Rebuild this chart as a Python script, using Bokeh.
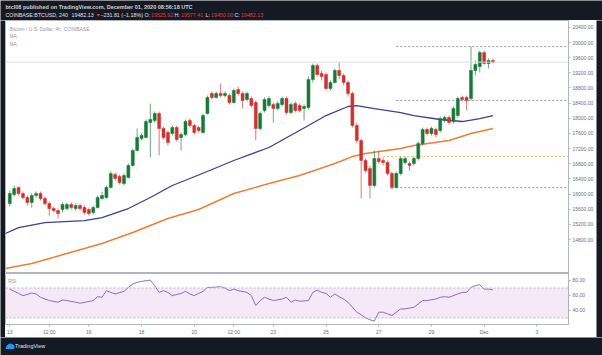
import pandas as pd
from bokeh.plotting import figure
from bokeh.layouts import column, row
from bokeh.models import (Range1d, LinearAxis, FixedTicker, Label, ColumnDataSource,
                          BoxAnnotation, Span, PrintfTickFormatter)
from bokeh.embed import file_html
from bokeh.resources import INLINE

# ---------------- data (BTCUSD 4h) ----------------
first_bar = "2020-11-13 00:00"
bar_hours = 4

opens = [15751, 15988, 16173, 16015, 15909, 15777, 15962, 16015, 15883, 15751,
         15619, 15566, 15593, 15619, 15725, 15619, 15698, 15645, 15593, 15514,
         15645, 15883, 15909, 16173, 16516, 16463, 16279, 16437, 16754, 17150,
         17467, 17493, 17888, 17941, 18126, 17730, 17625, 17599, 17757, 17493,
         17572, 17941, 17810, 17757, 17625, 18126, 18654, 18548, 18654, 18601,
         18601, 18416, 18759, 18654, 18496, 18522, 18416, 17730, 18206, 18337,
         18363, 18258, 18363, 18522, 18153, 18390, 18337, 18258, 18284, 19023,
         19393, 19182, 19155, 18786, 18944, 19261, 19129, 18944, 18654, 17810,
         17414, 16886, 16675, 16226, 16939, 16886, 16833, 16543, 16173, 16543,
         16833, 16807, 16807, 16939, 17335, 17704, 17599, 17704, 17678, 17941,
         18020, 17915, 18073, 18548, 18548, 18522, 19261, 19366, 19736, 19446,
         19525.92]
closes = [16015, 16147, 16015, 15909, 15777, 15962, 16015, 15883, 15751, 15619,
          15566, 15487, 15725, 15725, 15645, 15698, 15619, 15514, 15487, 15645,
          15909, 15962, 16173, 16543, 16411, 16306, 16490, 16754, 17150, 17493,
          17546, 17915, 17968, 18126, 17730, 17493, 17361, 17757, 17440, 17572,
          17915, 17810, 17625, 17678, 18073, 18548, 18548, 18654, 18601, 18654,
          18416, 18733, 18654, 18469, 18654, 18337, 17730, 18126, 18496, 18522,
          18258, 18390, 18522, 18153, 18363, 18206, 18206, 18311, 19023, 19393,
          19155, 19102, 18786, 18944, 19261, 19129, 18944, 18654, 17810, 17414,
          16886, 16622, 16226, 16939, 16859, 16833, 16543, 16173, 16543, 16939,
          16939, 16754, 16939, 17335, 17704, 17599, 17730, 17572, 17994, 18020,
          17888, 18258, 18522, 18496, 18469, 19261, 19419, 19736, 19446, 19525,
          19482.13]
highs = [16094, 16226, 16200, 16067, 15962, 16015, 16067, 16067, 15935, 15804,
         15672, 15619, 15777, 15777, 15777, 15751, 15751, 15698, 15645, 15698,
         15962, 16067, 16226, 16596, 16569, 16516, 16543, 16807, 17202, 17730,
         17599, 17968, 18390, 18179, 18179, 17783, 17678, 17810, 17810, 17625,
         17968, 17994, 17862, 17810, 18126, 18601, 18707, 18707, 18918, 18707,
         18654, 18786, 18839, 18707, 18707, 18575, 18469, 18179, 18548, 18575,
         18416, 18443, 18575, 18575, 18416, 18443, 18390, 18363, 19102, 19446,
         19446, 19261, 19208, 18997, 19314, 19472, 19182, 18997, 18707, 17888,
         17467, 16939, 16754, 17150, 17150, 16965, 16886, 16596, 16596, 16991,
         16991, 16859, 16991, 17388, 17757, 17757, 17783, 17757, 18047, 18073,
         18073, 18311, 18575, 18601, 18601, 19894, 19525, 19789, 19789, 19577,
         19577.41]
lows = [15672, 15935, 15962, 15856, 15698, 15645, 15909, 15830, 15698, 15434,
        15514, 15356, 15514, 15566, 15593, 15566, 15566, 15461, 15434, 15461,
        15619, 15856, 15883, 16147, 16358, 16253, 16226, 16411, 16728, 17123,
        17414, 17467, 16965, 17888, 17018, 17440, 17282, 17546, 17388, 17150,
        17520, 17757, 17572, 17625, 17599, 18100, 18496, 18522, 18548, 18548,
        18363, 18390, 18601, 18258, 18443, 18284, 17414, 17678, 18153, 18284,
        17888, 18206, 18311, 18100, 18100, 18153, 18153, 17941, 18232, 18944,
        19102, 18997, 18733, 18733, 18918, 19023, 18865, 18575, 17757, 17335,
        15883, 16569, 15883, 16173, 16807, 16754, 16490, 16120, 16147, 16490,
        16780, 16622, 16754, 16886, 17282, 17546, 17546, 17493, 17625, 17888,
        17836, 17862, 18020, 18443, 18206, 18469, 19129, 19208, 19419, 19314,
        19450.00]

# moving averages (vertices: bar index, value)
ma_blue_bar = [-1, 2, 8, 17, 21, 27, 32, 37, 43, 51, 59, 68, 72, 77, 79, 83, 89, 92, 98, 103, 107, 110]
ma_blue_val = [14959, 15117, 15249, 15302, 15381, 15619, 15909, 16226, 16503, 16886, 17229,
               17810, 18073, 18311, 18337, 18258, 18152, 18073, 17968, 17915, 17994, 18073]
ma_orange_bar = [-1, 5, 13, 21, 28, 36, 43, 51, 59, 66, 74, 78, 81, 89, 92, 100, 105, 110]
ma_orange_val = [14035, 14168, 14431, 14695, 14986, 15355, 15593, 16015, 16279, 16490,
                 16807, 16991, 17070, 17203, 17282, 17414, 17599, 17730]

# RSI (vertices: bar index, value)
rsi_bar = [0, 2, 3, 5, 6, 7, 9, 11, 12, 13, 15, 16, 19, 20, 21, 22, 23, 24, 26, 27, 28, 29, 30, 31,
           32, 33, 34, 35, 36, 37, 39, 40, 41, 42, 43, 44, 45, 46, 48, 49, 50, 51, 52, 54, 55, 56,
           57, 58, 59, 60, 62, 63, 64, 65, 66, 68, 69, 70, 71, 72, 73, 74, 75, 76, 77, 79, 80, 81,
           82, 83, 84, 85, 86, 87, 88, 89, 90, 92, 93, 94, 95, 97, 98, 99, 100, 102, 103, 104, 105,
           106, 107, 108, 109, 110]
rsi_val = [68.5, 62.8, 59.7, 63.3, 62.0, 57.6, 53.2, 51.0, 54.0, 53.2, 51.0, 49.6, 53.2, 58.4, 57.6,
           66.4, 64.1, 62.0, 65.5, 70.8, 75.2, 77.5, 78.8, 79.6, 80.5, 73.0, 64.1, 66.4, 64.1, 59.7,
           62.8, 65.5, 62.0, 59.7, 62.8, 65.5, 70.8, 70.8, 71.7, 69.9, 66.4, 68.5, 66.4, 64.1, 59.7,
           46.5, 53.2, 57.6, 55.3, 53.2, 55.3, 57.6, 51.0, 54.0, 52.3, 53.2, 64.1, 67.2, 64.1, 62.8,
           57.6, 62.0, 58.4, 55.3, 51.0, 37.7, 34.2, 30.1, 27.6, 25.8, 37.7, 37.7, 35.5, 33.3, 37.7,
           42.1, 42.1, 44.3, 48.7, 53.2, 53.2, 55.3, 57.6, 58.4, 57.6, 62.0, 64.1, 64.1, 70.8, 73.0,
           74.3, 68.5, 68.5, 67.6]
rsi_upper, rsi_lower = 70, 30

# horizontal rays drawn on the chart
ray_levels = [19894, 18469, 16991, 16174]
ray_colors = ["#9a9da6", "#9a9da6", "#f5c26b", "#9a9da6"]
ray_start_bar = [88, 88, 85, 88]

price_ticks = [14800, 15200, 15600, 16000, 16400, 16800, 17200, 17600, 18000, 18400,
               18800, 19200, 19600, 20000, 20400]
rsi_ticks = [40, 60, 80]
time_tick_times = ["2020-11-13 00:00", "2020-11-14 12:00", "2020-11-16 00:00", "2020-11-18 00:00",
                   "2020-11-20 00:00", "2020-11-21 12:00", "2020-11-23 00:00", "2020-11-25 00:00",
                   "2020-11-27 00:00", "2020-11-29 00:00", "2020-12-01 00:00", "2020-12-03 00:00"]
time_tick_labels = ["13", "12:00", "16", "18", "20", "12:00", "23", "25", "27", "29", "Dec", "3"]

header_line1 = "btcl08 published on TradingView.com, December 01, 2020 08:56:18 UTC"
header_line2 = [("COINBASE:BTCUSD, 240", "w"), ("19482.13", "w"), ("\u25bc", "r"),
                ("\u2212231.81 (\u22121.18%)", "w"), ("O:", "w"), ("19525.92", "r"),
                ("H:", "w"), ("19577.41", "r"), ("L:", "w"), ("19450.00", "r"),
                ("C:", "w"), ("19482.13", "r")]
legend_lines = ["Bitcoin / U.S. Dollar, 4h, COINBASE", "MA", "MA"]

# ---------------- helpers ----------------
t0 = pd.Timestamp(first_bar)
def hrs(ts):
    return (pd.Timestamp(ts) - t0).total_seconds() / 3600.0

DARK = "#151923"
UP, DOWN = "#177a37", "#d0302f"
FONT = "Liberation Sans"
AX_TXT = "#6a6d78"
LINE_GRAY = "#b2b5be"

xs = [i * bar_hours for i in range(len(opens))]
inc = [c >= o for o, c in zip(opens, closes)]
src = ColumnDataSource(dict(
    x=xs,
    top=[max(o, c) for o, c in zip(opens, closes)],
    bottom=[min(o, c) for o, c in zip(opens, closes)],
    high=highs, low=lows,
    color=[UP if u else DOWN for u in inc],
))

x_start, x_end = -3.9, 508.8
xr = Range1d(x_start, x_end)

# ---------------- header ----------------
hdr = figure(width=602, height=20, x_range=Range1d(0, 602), y_range=Range1d(20, 0),
             toolbar_location=None, output_backend="svg", min_border=0,
             x_axis_location=None, y_axis_location=None,
             background_fill_color=DARK, border_fill_color=DARK, outline_line_color=None)
hdr.grid.visible = False
hdr.add_layout(Label(x=5, y=6.5, text=header_line1, text_font=FONT, text_font_size="5.5px",
                     text_font_style="bold", text_color="#d1d4dc", text_baseline="middle"))
seg_x = [5, 71, 95, 100, 144, 150.5, 174, 180.5, 205, 210.5, 234, 240.5]
for sx, (t, c) in zip(seg_x, header_line2):
    hdr.add_layout(Label(x=sx, y=14, text=t, text_font=FONT, text_font_size="5.3px",
                         text_color=("#e0e3eb" if c == "w" else "#e23b3b"),
                         text_baseline="middle"))

# ---------------- main price pane ----------------
main = figure(width=591, height=253, x_range=xr, y_range=Range1d(13904, 20581),
              toolbar_location=None, output_backend="svg",
              min_border_left=0, min_border_right=27, min_border_top=0, min_border_bottom=0,
              x_axis_location=None, y_axis_location=None,
              background_fill_color="white", border_fill_color="white",
              outline_line_color=LINE_GRAY)
main.grid.visible = False

main.add_layout(Span(location=closes[-1], dimension="width", line_color="#dcdde1", line_width=1))
for lvl, col, sb in zip(ray_levels, ray_colors, ray_start_bar):
    main.segment(x0=sb * bar_hours, y0=lvl, x1=x_end, y1=lvl, line_color=col,
                 line_width=1, line_dash="2 2")

main.line([b * bar_hours for b in ma_orange_bar], ma_orange_val, line_color="#f07c36", line_width=1.4)
main.line([b * bar_hours for b in ma_blue_bar], ma_blue_val, line_color="#3d3f96", line_width=1.3)

main.segment(x0="x", y0="low", x1="x", y1="high", source=src, line_color="color",
             line_alpha=0.65, line_width=1)
main.vbar(x="x", width=bar_hours * 0.68, top="top", bottom="bottom", source=src,
          fill_color="color", line_color="color", line_width=0.5)

yax = LinearAxis(ticker=FixedTicker(ticks=price_ticks),
                 formatter=PrintfTickFormatter(format="%.2f"),
                 major_label_text_font_size="5px", major_label_text_color=AX_TXT,
                 major_label_text_font=FONT,
                 major_tick_out=2, major_tick_in=0, minor_tick_out=0, minor_tick_in=0,
                 major_tick_line_color=LINE_GRAY, axis_line_color=LINE_GRAY,
                 major_label_standoff=2)
main.add_layout(yax, "right")

for k, txt in enumerate(legend_lines):
    main.add_layout(Label(x=-0.3, y=[20369, 20185, 19974][k], text=txt, text_font=FONT,
                          text_font_size="5px", text_color="#9598a1", text_baseline="middle"))

# ---------------- RSI pane ----------------
rsi = figure(width=591, height=64, x_range=xr, y_range=Range1d(21.3, 89.3),
             toolbar_location=None, output_backend="svg",
             min_border_left=0, min_border_right=27, min_border_top=0, min_border_bottom=13,
             x_axis_location=None, y_axis_location=None,
             background_fill_color="white", border_fill_color="white",
             outline_line_color=LINE_GRAY)
rsi.grid.visible = False
rsi.add_layout(BoxAnnotation(bottom=rsi_lower, top=rsi_upper, fill_color="#9c27b0",
                             fill_alpha=0.1, line_color=None))
for lv in (rsi_upper, rsi_lower):
    rsi.add_layout(Span(location=lv, dimension="width", line_color="#b9bbc2",
                        line_dash="2 2", line_width=1))
rsi.line([b * bar_hours for b in rsi_bar], rsi_val, line_color="#8d72c4", line_width=1)
rsi.add_layout(Label(x=-1.5, y=78.7, text="RSI", text_font=FONT, text_font_size="5px",
                     text_color="#9598a1", text_baseline="middle"))

rax = LinearAxis(ticker=FixedTicker(ticks=rsi_ticks),
                 formatter=PrintfTickFormatter(format="%.2f"),
                 major_label_text_font_size="5px", major_label_text_color=AX_TXT,
                 major_label_text_font=FONT,
                 major_tick_out=2, major_tick_in=0, minor_tick_out=0, minor_tick_in=0,
                 major_tick_line_color=LINE_GRAY, axis_line_color=LINE_GRAY,
                 major_label_standoff=2)
rsi.add_layout(rax, "right")

tick_pos = [int(round(hrs(t))) for t in time_tick_times]
xax = LinearAxis(ticker=FixedTicker(ticks=tick_pos),
                 major_label_overrides={p: l for p, l in zip(tick_pos, time_tick_labels)},
                 major_label_text_font_size="5px", major_label_text_color=AX_TXT,
                 major_label_text_font=FONT,
                 major_tick_out=2, major_tick_in=0, minor_tick_out=0, minor_tick_in=0,
                 major_tick_line_color=LINE_GRAY, axis_line_color=LINE_GRAY,
                 major_label_standoff=2)
rsi.add_layout(xax, "below")

# ---------------- side strips and footer ----------------
def strip(w, h):
    s = figure(width=w, height=h, toolbar_location=None, output_backend="svg", min_border=0,
               x_axis_location=None, y_axis_location=None, x_range=Range1d(0, 1), y_range=Range1d(0, 1),
               background_fill_color=DARK, border_fill_color=DARK, outline_line_color=None)
    s.grid.visible = False
    return s

left = strip(5, 317)
right = strip(6, 317)

ftr = figure(width=602, height=18, x_range=Range1d(0, 602), y_range=Range1d(18, 0),
             toolbar_location=None, output_backend="svg", min_border=0,
             x_axis_location=None, y_axis_location=None,
             background_fill_color=DARK, border_fill_color=DARK, outline_line_color=None)
ftr.grid.visible = False
ftr.patch([5.5, 6.5, 8, 10, 12, 13.5, 13.5, 5.5], [11, 8.5, 7, 6.5, 7, 8.5, 11, 11],
          fill_color="#2196f3", line_color="#2196f3")
ftr.add_layout(Label(x=14.5, y=8.5, text="TradingView", text_font=FONT, text_font_size="5.5px",
                     text_color="#e0e3eb", text_baseline="middle"))

layout = column(hdr, row(left, column(main, rsi), right), ftr)
open("out.html", "w").write(file_html(layout, INLINE))
